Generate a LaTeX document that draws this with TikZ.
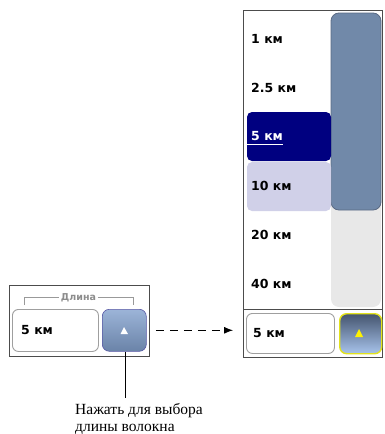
\documentclass[tikz,border=0pt]{standalone}
\usepackage{fontspec}
\setmainfont{Liberation Serif}
\newfontfamily\uifont{DejaVu Sans}
\usetikzlibrary{positioning,calc,arrows.meta}
\definecolor{thumbblue}{HTML}{7189A9}
\definecolor{thumbedge}{HTML}{5A6A84}
\definecolor{lavender}{HTML}{D0D0E8}
\definecolor{trackgray}{HTML}{E8E8E8}
\definecolor{btnyellow}{HTML}{E2E21C}
\definecolor{lbtntop}{HTML}{9CB4D8}
\definecolor{lbtnbottom}{HTML}{6A83A8}
\definecolor{rbtntop}{HTML}{44546E}
\definecolor{rbtnbottom}{HTML}{A8C4EC}
\newcommand*{\km}[1]{\uifont\bfseries\fontsize{12.5}{14}\selectfont #1}

\begin{document}
\begin{tikzpicture}[x=1pt,y=-1pt,
  frame/.style={draw=gray!60!black,line width=0.8pt,anchor=north west,inner sep=0pt},
  field/.style={draw=gray!75,line width=0.9pt,fill=white,rounded corners=6pt,anchor=north west,inner sep=0pt},
  item/.style={anchor=west,inner sep=0pt}]
\useasboundingbox (0,0) rectangle (384,434);
% Left panel: the length box with its button
\node [frame,minimum width=140pt,minimum height=71pt] (leftframe) at (9,285) {};
% Bracket over the box with its title
\draw [gray!80,line width=0.8pt] (24,305) -- (24,297.5) -- (133,297.5) -- (133,305);
\node [fill=white,inner sep=1.5pt,text=gray!90] (title) at (78.5,297.5)
      {\uifont\bfseries\fontsize{9.5}{11}\selectfont Длина};
\node [field,minimum width=86pt,minimum height=42pt] (lenbox) at (12,309) {};
\node [item] (lentext) at (21,330) {\km{5 км}};
\node [draw=gray!70!blue,line width=0.6pt,rounded corners=7pt,top color=lbtntop,bottom color=lbtnbottom,
       minimum width=44pt,minimum height=42pt,anchor=north west,inner sep=0pt] (lenbtn) at (102,309) {};
\fill [white] (124,327) -- (128,334) -- (120.5,334) -- cycle;
% Callout under the button
\coordinate (calloutend) at (125,398);
\draw [line width=0.7pt] (lenbtn.south -| calloutend) -- (calloutend);
\node [anchor=north west,align=left,inner sep=0pt,font=\fontsize{15.5}{17.5}\selectfont] (callout) at (75,403)
      {Нажать для выбора\\длины волокна};
% Right panel: the opened list
\node [frame,minimum width=139pt,minimum height=347pt] (rightframe) at (243,10) {};
\draw [gray!60!black,line width=0.8pt] (243,309) -- (382,309);
% Scroll track and thumb
\fill [trackgray,rounded corners=8pt] (331,13) rectangle (381,307);
\draw [thumbedge,fill=thumbblue,line width=0.8pt,rounded corners=8pt] (331,13) rectangle (381,210);
% Selected and hovered entries
\fill [blue!50!black,rounded corners=5pt] (247,112) rectangle (331,161);
\fill [lavender,rounded corners=5pt] (247,162) rectangle (331,211);
\node [item] (len1) at (251,39) {\km{1 км}};
\node [item] (len2) at (251,88) {\km{2.5 км}};
\node [item,text=white] (len5) at (251,136) {\km{5 км}};
\draw [white,line width=0.8pt] (247,144) -- (len5.east |- 0,144);
\node [item] (len10) at (251,186) {\km{10 км}};
\node [item] (len20) at (251,235) {\km{20 км}};
\node [item] (len40) at (251,284) {\km{40 км}};
% Bottom bar of the list
\node [field,minimum width=88pt,minimum height=40pt] (selbox) at (246,313) {};
\node [item] (seltext) at (253,333) {\km{5 км}};
\node [draw=btnyellow,line width=1.4pt,rounded corners=7pt,top color=rbtntop,bottom color=rbtnbottom,
       minimum width=42pt,minimum height=40pt,anchor=north west,inner sep=0pt] (selbtn) at (339,313) {};
\fill [yellow] (359,329) -- (363,337) -- (355,337) -- cycle;
% Dashed arrow from the closed to the opened list
\draw [dashed,dash pattern=on 8pt off 6pt,line width=0.9pt,-{Latex[length=9pt,width=7pt]}]
      ([xshift=6pt]leftframe.east |- lenbtn.center) -- ([xshift=-10pt]rightframe.west |- lenbtn.center);
\end{tikzpicture}
\end{document}
